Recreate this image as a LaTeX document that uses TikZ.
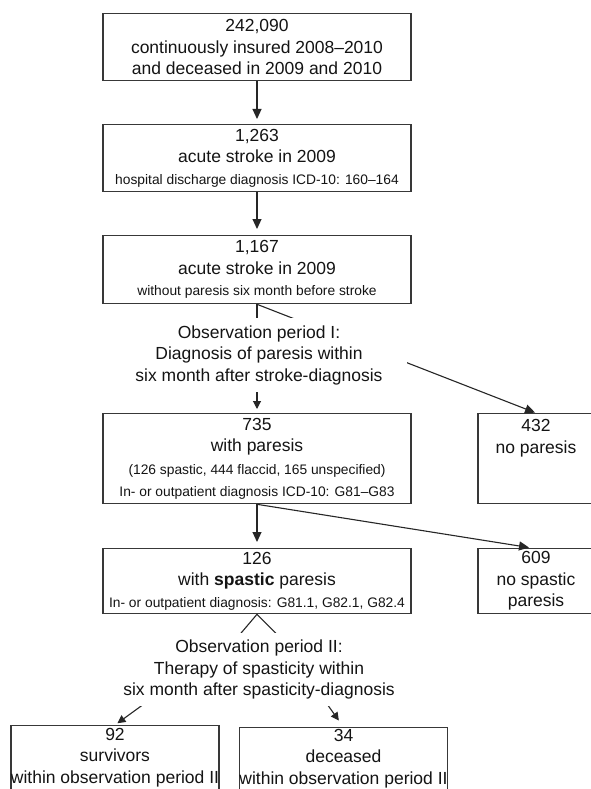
\documentclass[tikz,border=0pt]{standalone}
\usepackage{fontspec}
\setmainfont{Liberation Sans}
\usetikzlibrary{arrows.meta,calc}
\newcommand\bigtxt{\fontsize{17.5}{21.5}\selectfont}
\newcommand\smalltxt{\fontsize{13.8}{21.5}\selectfont}
\begin{document}
\begin{tikzpicture}[x=1pt,y=-1pt,
  box/.style={draw=black!78, line width=1.3pt, fill=white, inner sep=0pt,
    align=center, text=black!92, font=\bigtxt, anchor=north},
  obs/.style={fill=white, inner sep=0pt, align=center, text=black!92,
    font=\bigtxt, minimum width=296pt},
  arr/.style={draw=black!85, line width=1.1pt,
    -{Triangle[length=10pt,width=9pt]}},
  sarr/.style={draw=black!85, line width=1.1pt,
    -{Triangle[length=8pt,width=8pt]}}]
\useasboundingbox (0,0) rectangle (590,789);
\fill[white] (0,0) rectangle (590,789);

\node[box, minimum width=308pt, minimum height=67pt] (b1) at (257,13)
  {242,090\\continuously insured 2008--2010\\and deceased in 2009 and 2010};
\node[box, minimum width=308pt, minimum height=67pt] (b2) at (257,124)
  {1,263\\acute stroke in 2009\\{\smalltxt hospital discharge diagnosis ICD-10: 160--164}};
\node[box, minimum width=308pt, minimum height=68pt] (b3) at (257,235)
  {1,167\\acute stroke in 2009\\{\smalltxt without paresis six month before stroke}};
\node[box, minimum width=308pt, minimum height=90pt] (b4) at (257,413)
  {735\\with paresis\\[1.5pt]{\smalltxt (126 spastic, 444 flaccid, 165 unspecified)}\\{\smalltxt In- or outpatient diagnosis ICD-10: G81--G83}};
\node[box, minimum width=116pt, minimum height=90pt] (b5) at (536,413)
  {432\\no paresis\\[1.5pt]\mbox{}\\\mbox{}};
\node[box, minimum width=308pt, minimum height=65pt] (b6) at (257,548)
  {126\\with \textbf{spastic} paresis\\{\smalltxt In- or outpatient diagnosis: G81.1, G82.1, G82.4}};
\node[box, minimum width=116pt, minimum height=65pt] (b7) at (536,548)
  {609\\no spastic\\paresis};
\node[box, minimum width=204pt, minimum height=81pt] (b8) at (115,725)
  {92\\survivors\\within observation period II\\\mbox{}};
\node[box, minimum width=203pt, minimum height=79pt] (b9) at (343.5,727)
  {34\\deceased\\within observation period II\\\mbox{}};

\draw[arr, shorten >=5pt] (b1.south) -- (b2.north);
\draw[arr, shorten >=6pt] (b2.south) -- (b3.north);
\draw[sarr, shorten >=4pt] (b3.south) -- (b4.north);
\draw[arr, shorten >=1pt] (b3.south) -- (b5.north);
\draw[arr, shorten >=6pt] (b4.south) -- (b6.north);
\draw[arr, shorten >=3pt] (b4.south) -- ($(b7.north)+(-4,0)$);
\draw[sarr, shorten >=3pt] (b6.south) -- ++(-17,20) -- (b8.north);
\draw[sarr, shorten >=8pt] (b6.south) -- ++(20,20) -- (b9.north);

\node[obs, minimum height=74pt] (o1) at (259,355)
  {Observation period I:\\Diagnosis of paresis within\\six month after stroke-diagnosis};
\node[obs, minimum width=300pt, minimum height=73pt] (o2) at (259,669.5)
  {Observation period II:\\Therapy of spasticity within\\six month after spasticity-diagnosis};
\end{tikzpicture}
\end{document}
